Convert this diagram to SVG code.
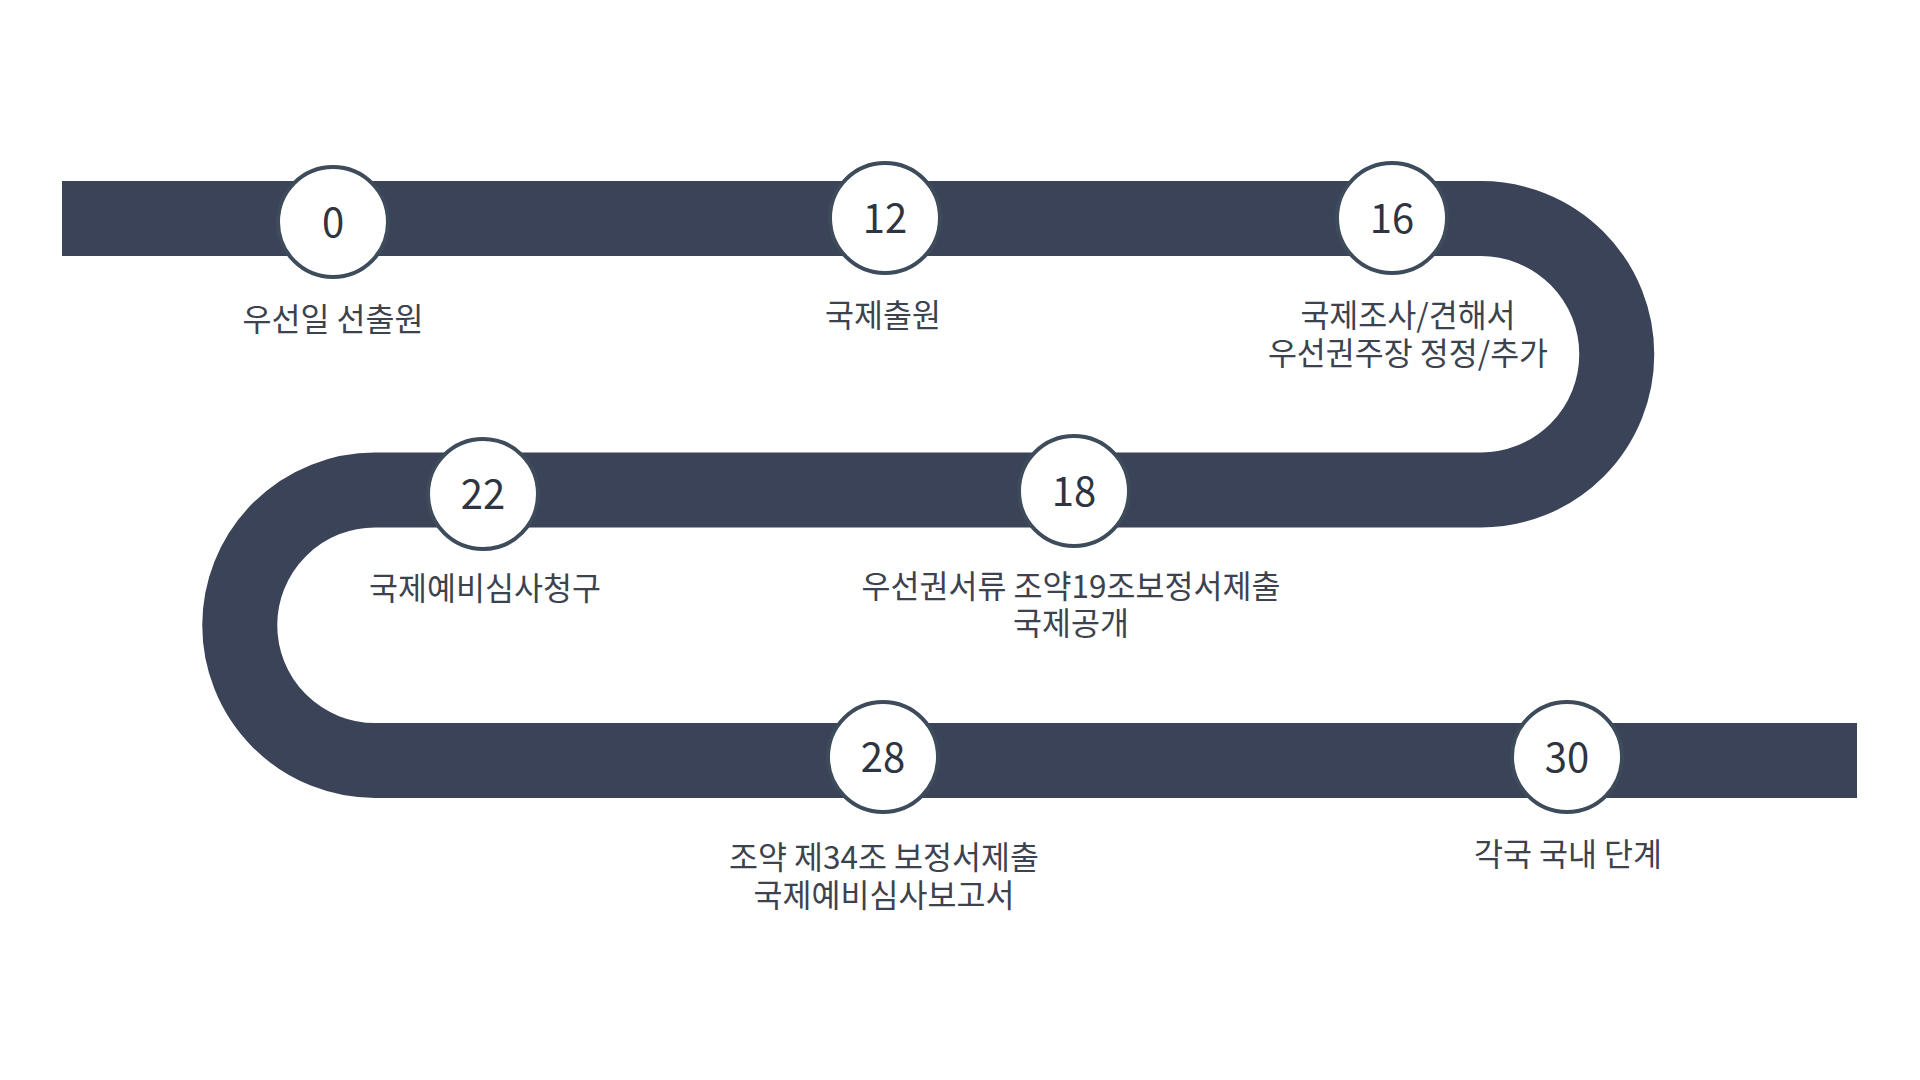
<svg xmlns="http://www.w3.org/2000/svg" width="1920" height="1080" viewBox="0 0 1920 1080">
<style>
.band{fill:none;stroke:#3a4357;stroke-width:75;stroke-linecap:butt}
.dot{fill:#ffffff;stroke:#3d4b5b;stroke-width:4}
.num{font-family:"Noto Sans CJK KR","Noto Sans",sans-serif;font-size:40px;fill:#2f3540;text-anchor:middle}
.lbl{font-family:"Noto Sans CJK KR","Noto Sans",sans-serif;font-size:31.5px;fill:#3c424e;text-anchor:middle}
</style>
<rect width="1920" height="1080" fill="#ffffff"/>
<g id="connectors">
<path class="band" d="M62,218.5 H1481 A135.75,135.75 0 0 1 1481,490 H375 A135.25,135.25 0 0 0 375,760.5 H1857"/>
</g>
<g id="node-0">
<circle class="dot" cx="333" cy="222" r="55"/>
<text class="num" x="333" y="237">0</text>
<text class="lbl" x="333" y="331">우선일 선출원</text>
</g>
<g id="node-12">
<circle class="dot" cx="885" cy="218" r="55"/>
<text class="num" x="885" y="233">12</text>
<text class="lbl" x="883" y="327">국제출원</text>
</g>
<g id="node-16">
<circle class="dot" cx="1392" cy="218" r="55"/>
<text class="num" x="1392" y="233">16</text>
<text class="lbl" x="1408" y="327">국제조사/견해서</text>
<text class="lbl" x="1408" y="365">우선권주장 정정/추가</text>
</g>
<g id="node-22">
<circle class="dot" cx="483" cy="494" r="55"/>
<text class="num" x="483" y="509">22</text>
<text class="lbl" x="485" y="600">국제예비심사청구</text>
</g>
<g id="node-18">
<circle class="dot" cx="1074" cy="491" r="55"/>
<text class="num" x="1074" y="506">18</text>
<text class="lbl" x="1071" y="598">우선권서류 조약19조보정서제출</text>
<text class="lbl" x="1071" y="635">국제공개</text>
</g>
<g id="node-28">
<circle class="dot" cx="883" cy="757" r="55"/>
<text class="num" x="883" y="772">28</text>
<text class="lbl" x="884" y="869">조약 제34조 보정서제출</text>
<text class="lbl" x="884" y="907">국제예비심사보고서</text>
</g>
<g id="node-30">
<circle class="dot" cx="1567" cy="757" r="55"/>
<text class="num" x="1567" y="772">30</text>
<text class="lbl" x="1568" y="866">각국 국내 단계</text>
</g>
</svg>
